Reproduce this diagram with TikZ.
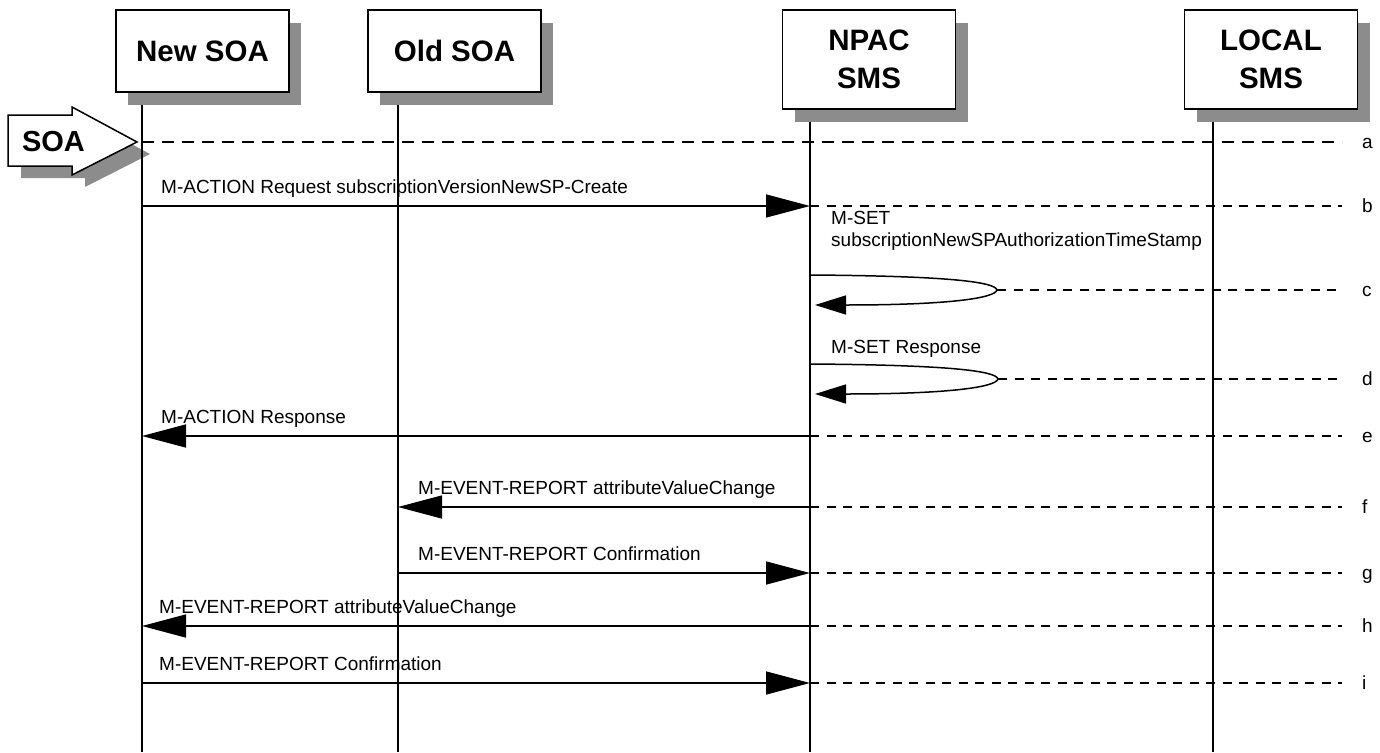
\documentclass[tikz,border=0pt]{standalone}
\usepackage{fontspec}
\setmainfont{Liberation Sans}
\usetikzlibrary{arrows.meta,shadows}
\definecolor{shadowgray}{RGB}{140,140,140}
\tikzset{
 actor/.style={draw=black, line width=1.8pt, fill=white, minimum width=173pt, inner sep=0pt,
   font=\fontsize{29.5}{38}\selectfont\bfseries, align=center,
   drop shadow={shadow xshift=12pt, shadow yshift=-13pt, fill=shadowgray, opacity=1}},
 life/.style={line width=1.6pt},
 msg/.style={line width=1.5pt, -{Triangle[length=44pt,width=23pt]}},
 loopmsg/.style={line width=1.5pt, -{Triangle[length=31pt,width=19pt]}},
 guide/.style={line width=2.8pt, dash pattern=on 9pt off 7.5pt},
 startguide/.style={line width=1.8pt, dash pattern=on 12pt off 8pt},
 lbl/.style={anchor=base west, font=\fontsize{19}{22}\selectfont, inner sep=0pt, align=left},
 tag/.style={anchor=base west, font=\fontsize{19}{22}\selectfont, inner sep=0pt},
}
\begin{document}
\begin{tikzpicture}[x=1pt,y=-1pt]
\useasboundingbox (0,0) rectangle (1380,752);

% actor boxes
\node[actor, minimum height=82pt] (newsoa) at (202.5,51) {New SOA};
\node[actor, minimum height=82pt] (oldsoa) at (454.5,51) {Old SOA};
\node[actor, minimum height=99pt] (npac) at (869,59.5) {NPAC\\SMS};
\node[actor, minimum height=99pt] (local) at (1271,59.5) {LOCAL\\SMS};

% SOA block arrow
\fill[shadowgray] (21,127) -- (85,127) -- (85,119) -- (150,154) -- (85,187) -- (85,178) -- (21,178) -- cycle;
\draw[line width=1.5pt, fill=white] (8,115) -- (72,115) -- (72,107) -- (137,142) -- (72,175) -- (72,166) -- (8,166) -- cycle;
\node[font=\fontsize{29}{35}\selectfont\bfseries] (soa) at (53.5,142) {SOA};

% lifeline tops and bottom
\coordinate (NS) at (142,105);
\coordinate (OS) at (398,105);
\coordinate (NP) at (810,122);
\coordinate (LS) at (1213,122);
\coordinate (bot) at (0,752);
\draw[life] (NS) -- (NS |- bot);
\draw[life] (OS) -- (OS |- bot);
\draw[life] (NP) -- (NP |- bot);
\draw[life] (LS) -- (LS |- bot);

% rows
\coordinate (ra) at (0,142);
\coordinate (rb) at (0,206);
\coordinate (rc1) at (0,275);
\coordinate (rc) at (0,290);
\coordinate (rc2) at (0,305);
\coordinate (rd1) at (0,364);
\coordinate (rd) at (0,379);
\coordinate (rd2) at (0,394);
\coordinate (re) at (0,436);
\coordinate (rf) at (0,507);
\coordinate (rg) at (0,573);
\coordinate (rh) at (0,626);
\coordinate (ri) at (0,683);

% tags (baseline 6 below the row)
\node[tag] (ta) at (1362,148) {a};
\node[tag] (tb) at (1362,212) {b};
\node[tag] (tc) at (1362,296) {c};
\node[tag] (td) at (1362,385) {d};
\node[tag] (te) at (1362,442) {e};
\node[tag] (tf) at (1362,513) {f};
\node[tag] (tg) at (1362,579) {g};
\node[tag] (th) at (1362,632) {h};
\node[tag] (ti) at (1362,689) {i};

% a
\draw[startguide] (NS |- ra) -- ([xshift=-20pt]ta.west |- ra);

% b
\draw[msg] (NS |- rb) -- (NP |- rb);
\node[lbl] (lb) at ([xshift=19pt,yshift=13pt]NS |- rb) {M-ACTION Request subscriptionVersionNewSP-Create};
\draw[guide] (NP |- rb) -- ([xshift=-20pt]tb.west |- rb);

% c
\coordinate (ctip) at (997,290);
\draw[loopmsg] (NP |- rc1) .. controls (950,276) and (995,282) .. (ctip)
  .. controls (995,298) and (950,305) .. ([xshift=5pt]NP |- rc2);
\node[lbl] (lc) at ([xshift=21pt,yshift=28.5pt]NP |- rc1) {M-SET\\subscriptionNewSPAuthorizationTimeStamp};
\draw[guide] (ctip) -- ([xshift=-20pt]tc.west |- rc);

% d
\coordinate (dtip) at (998,379);
\draw[loopmsg] (NP |- rd1) .. controls (950,365) and (996,371) .. (dtip)
  .. controls (996,387) and (950,394) .. ([xshift=5pt]NP |- rd2);
\node[lbl] (ld) at ([xshift=21pt,yshift=10.5pt]NP |- rd1) {M-SET Response};
\draw[guide] (dtip) -- ([xshift=-20pt]td.west |- rd);

% e
\draw[msg] (NP |- re) -- (NS |- re);
\node[lbl] (le) at ([xshift=19pt,yshift=13pt]NS |- re) {M-ACTION Response};
\draw[guide] (NP |- re) -- ([xshift=-20pt]te.west |- re);

% f
\draw[msg] (NP |- rf) -- (OS |- rf);
\node[lbl] (lf) at ([xshift=20pt,yshift=13pt]OS |- rf) {M-EVENT-REPORT attributeValueChange};
\draw[guide] (NP |- rf) -- ([xshift=-20pt]tf.west |- rf);

% g
\draw[msg] (OS |- rg) -- (NP |- rg);
\node[lbl] (lg) at ([xshift=20pt,yshift=13pt]OS |- rg) {M-EVENT-REPORT Confirmation};
\draw[guide] (NP |- rg) -- ([xshift=-20pt]tg.west |- rg);

% h
\draw[msg] (NP |- rh) -- (NS |- rh);
\node[lbl] (lh) at ([xshift=17pt,yshift=13pt]NS |- rh) {M-EVENT-REPORT attributeValueChange};
\draw[guide] (NP |- rh) -- ([xshift=-20pt]th.west |- rh);

% i
\draw[msg] (NS |- ri) -- (NP |- ri);
\node[lbl] (li) at ([xshift=17pt,yshift=13pt]NS |- ri) {M-EVENT-REPORT Confirmation};
\draw[guide] (NP |- ri) -- ([xshift=-20pt]ti.west |- ri);
\end{tikzpicture}
\end{document}
